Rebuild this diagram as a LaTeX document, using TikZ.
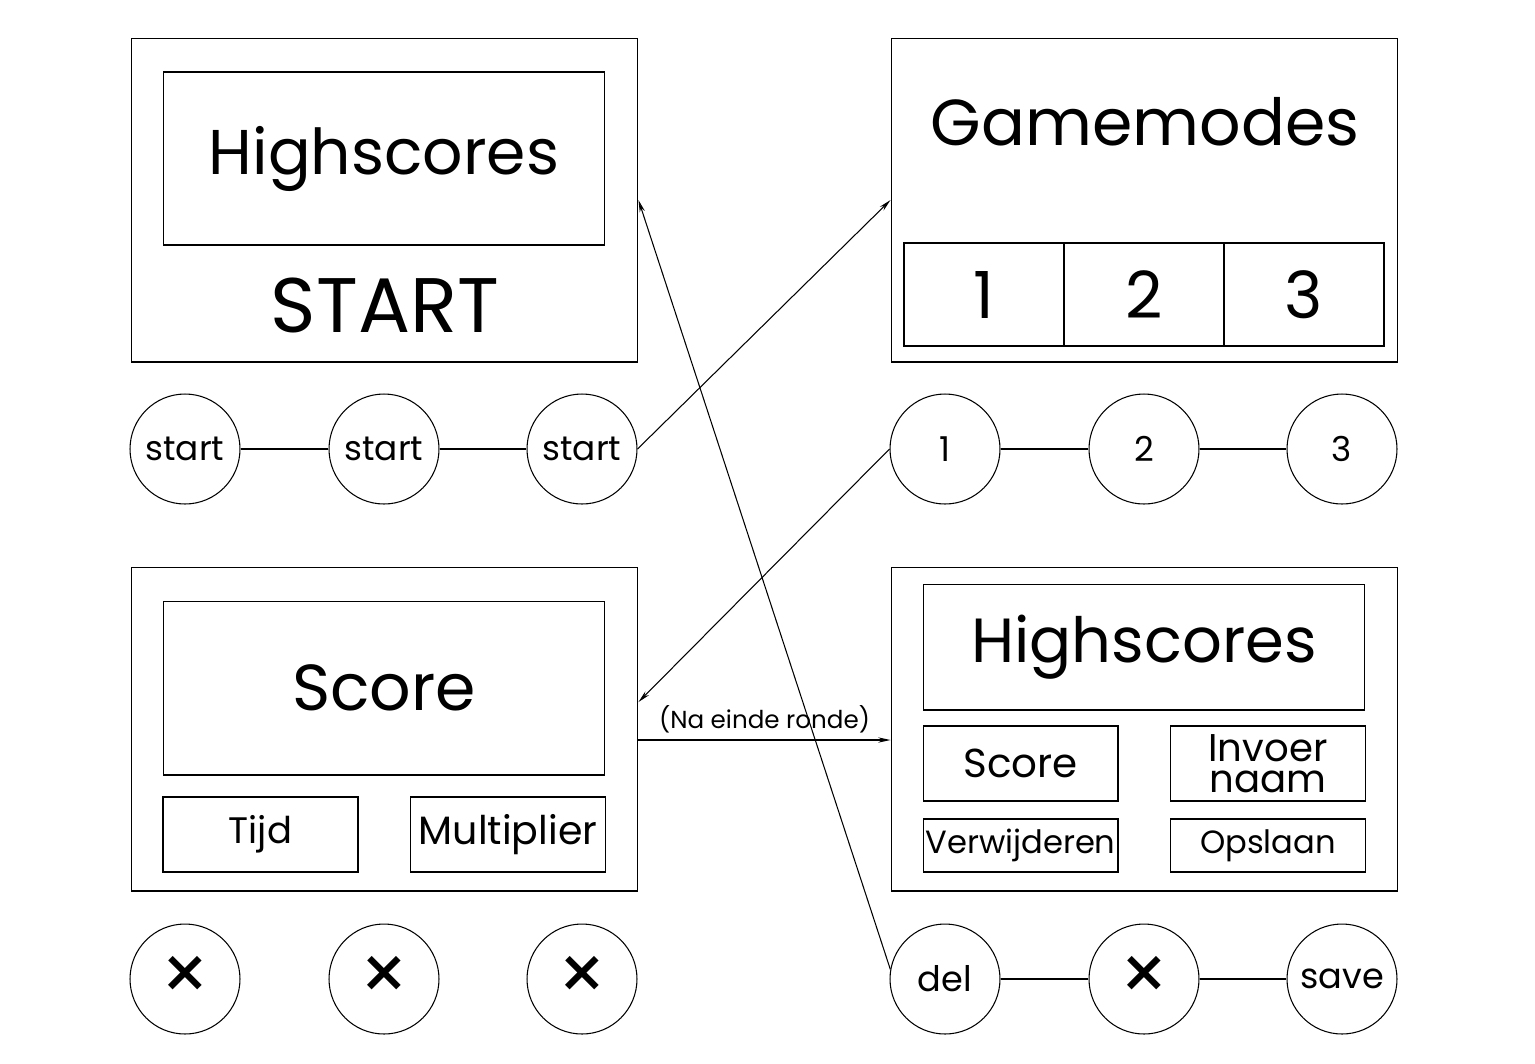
\documentclass[tikz,border=0pt]{standalone}
\usepackage{fontspec}
\setmainfont{Poppins}
\usetikzlibrary{arrows.meta,calc}
\newcommand\fsz[1]{\fontsize{#1}{#1}\selectfont}
\begin{document}
\begin{tikzpicture}[x=0.02cm,y=-0.02cm,line width=0.6pt,
  screen/.style={draw,minimum width=10.14cm,minimum height=6.48cm,inner sep=0pt},
  box/.style={draw,inner sep=0pt},
  knop/.style={draw,circle,minimum size=2.2cm,inner sep=0pt,font=\fsz{19.5pt}},
  kruis/.style={knop,font=\fsz{44pt}},
  pijl/.style={-{Stealth[length=7pt,width=3pt]}}]
\useasboundingbox (0,0) rectangle (1535,1063);
% scherm 1: start
\node [screen] (hb) at (384.5,200) {};
\node [box,minimum width=8.84cm,minimum height=3.46cm,font=\fsz{36pt}] (hb1) at (384,158.5) {Highscores};
\node [font=\fsz{44pt}] (st) at (385,305) {START};
% scherm 2: gamemodes
\node [screen] (gm) at (1144.5,200) {};
\node [font=\fsz{37pt}] (gmt) at (1145,122) {Gamemodes};
\node [box,minimum width=3.2cm,minimum height=2.06cm,font=\fsz{37pt}] (m1) at (984,294.5) {1};
\node [box,minimum width=3.2cm,minimum height=2.06cm,font=\fsz{37pt}] (m2) at (1144,294.5) {2};
\node [box,minimum width=3.2cm,minimum height=2.06cm,font=\fsz{37pt}] (m3) at (1304,294.5) {3};
% scherm 3: spel
\node [screen] (sc) at (384.5,729) {};
\node [box,minimum width=8.84cm,minimum height=3.48cm,font=\fsz{37pt}] (sc1) at (384,688) {Score};
\node [box,minimum width=3.9cm,minimum height=1.5cm,font=\fsz{21pt}] (tijd) at (260.5,834.5) {Tijd};
\node [box,minimum width=3.9cm,minimum height=1.5cm,font=\fsz{22.5pt}] (mult) at (508,834.5) {Multiplier};
% scherm 4: highscores
\node [screen] (hs) at (1144.5,729) {};
\node [box,minimum width=8.84cm,minimum height=2.52cm,font=\fsz{35.5pt}] (hs1) at (1144,647) {Highscores};
\node [box,minimum width=3.9cm,minimum height=1.5cm,font=\fsz{23pt}] (hsc) at (1020.5,763.5) {Score};
\node [box,minimum width=3.9cm,minimum height=1.5cm,align=center,font=\fontsize{22pt}{17.5pt}\selectfont] (inv) at (1268,763.5) {Invoer\\naam};
\node [box,minimum width=3.9cm,minimum height=1.06cm,font=\fsz{18.3pt}] (del) at (1020.5,845.5) {Verwijderen};
\node [box,minimum width=3.9cm,minimum height=1.06cm,font=\fsz{18.3pt}] (ops) at (1268,845.5) {Opslaan};
% knoppen
\node [knop] (s1) at (185,449) {start};
\node [knop] (s2) at (384,449) {start};
\node [knop] (s3) at (582,449) {start};
\node [knop] (k1) at (945,449) {1};
\node [knop] (k2) at (1144,449) {2};
\node [knop] (k3) at (1342,449) {3};
\node [kruis] (x1) at (185,979) {×};
\node [kruis] (x2) at (384,979) {×};
\node [kruis] (x3) at (582,979) {×};
\node [knop,font=\fsz{20pt}] (kd) at (945,979) {del};
\node [kruis] (kx) at (1144,979) {×};
\node [knop,font=\fsz{20pt}] (ks) at (1342,979) {save};
\draw (s1) -- (s2) -- (s3);
\draw (k1) -- (k2) -- (k3);
\draw (kd) -- (kx) -- (ks);
% overgangen
\draw [pijl] (s3.east) -- (gm.west);
\draw [pijl] (k1.west) -- ($(sc.north east)!0.417!(sc.south east)$);
\coordinate (na) at ($(sc.east)+(0,11)$);
\draw [pijl] (na) -- (hs.west |- na) node [midway,above=0.5pt,font=\fsz{14pt}] (lbl) {(Na einde ronde)};
\draw [-{Stealth[open,length=7pt,width=3pt]}] (kd.170) -- (hb.east);
\end{tikzpicture}
\end{document}
